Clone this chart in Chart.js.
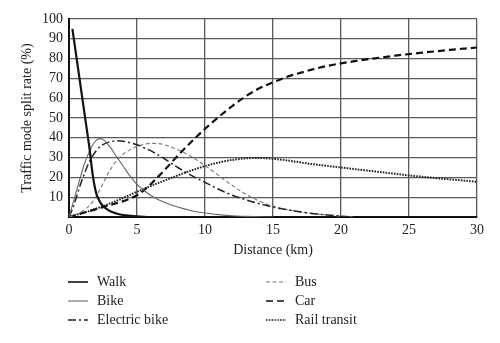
<!DOCTYPE html>
<html>
<head>
<meta charset="utf-8">
<script src="https://cdn.jsdelivr.net/npm/chart.js@4/dist/chart.umd.min.js"></script>
<style>
  html, body { margin: 0; padding: 0; background: #fff; }
  #wrap { width: 500px; height: 343px; }
</style>
</head>
<body>
<div id="wrap"><canvas id="modeChart"></canvas></div>
<script>
// distance grid (km) shared by every curve
const distanceKm = [0, 0.25, 0.5, 0.75, 1, 1.25, 1.5, 1.75, 2, 2.25, 2.5, 3, 3.5, 4, 4.5, 5, 5.5, 6, 6.5, 7,
  8, 9, 10, 11, 12, 13, 14, 15, 16, 17, 18, 19, 20, 21, 22, 23, 24, 25, 26, 27, 28, 29, 30];

// split rate (%) per mode, null where the curve is not drawn
const walkRate = [null, 95, 83, 71, 59, 47, 35, 21, 12, 8, 5.5, 3, 1.8, 1, 0.6, 0.3, 0.1, 0, 0, 0,
  0, 0, 0, null, null, null, null, null, null, null, null, null, null, null, null, null, null, null, null, null, null, null, null];
const bikeRate = [0, 6, 12, 18, 24, 29, 33, 36.5, 38.7, 39.6, 39.2, 35.5, 30.5, 25.5, 20.5, 16.5, 13.5, 11, 9, 7.5,
  5, 3.2, 2, 1.2, 0.6, 0.3, 0.1, 0, null, null, null, null, null, null, null, null, null, null, null, null, null, null, null];
const ebikeRate = [0, 4, 9, 14.5, 19.5, 24, 28, 31, 33.5, 35.3, 36.6, 38, 38.5, 38.3, 37.5, 36.5, 35, 33.5, 31.5, 29.5,
  25, 21, 17.5, 14, 11, 8.7, 6.7, 5, 3.7, 2.6, 1.7, 1, 0.4, 0, null, null, null, null, null, null, null, null, null];
const busRate = [0, 0.5, 1.2, 2, 3, 4.2, 5.8, 7.8, 10.5, 13.5, 17, 23.5, 28.5, 31.8, 34, 35.7, 36.7, 37.2, 37.1, 36.5,
  34, 30.5, 26, 21, 16, 11.5, 8, 5.5, 3.8, 2.6, 1.7, 1, 0.4, 0, null, null, null, null, null, null, null, null, null];
const carRate = [0, 0.5, 1, 1.5, 2, 2.5, 3, 3.5, 4, 4.5, 5, 6, 7, 8, 9.3, 11, 13.5, 16.5, 20, 23.5,
  31, 38, 44.5, 50.5, 56, 61, 65, 68, 70.7, 72.8, 74.7, 76.3, 77.6, 78.7, 79.7, 80.6, 81.5, 82.3, 83, 83.7, 84.4, 85, 85.6];
const railRate = [0, 0.5, 1, 1.5, 2, 2.5, 3, 3.6, 4.2, 4.8, 5.4, 6.8, 8.2, 9.7, 11.2, 12.7, 14.2, 15.6, 17, 18.3,
  21, 23.5, 25.7, 27.5, 28.8, 29.6, 29.8, 29.4, 28.6, 27.6, 26.6, 25.8, 25, 24.2, 23.4, 22.6, 21.8, 21, 20.3, 19.6, 19, 18.4, 17.8];

const modeNames = ['Walk', 'Bike', 'Electric bike', 'Bus', 'Car', 'Rail transit'];
const xTicks = [0, 5, 10, 15, 20, 25, 30];

const serif = "'Liberation Serif', 'DejaVu Serif', serif";

function toPoints(rates) {
  return distanceKm.map((d, i) => ({ x: d, y: rates[i] }));
}

function line(label, rates, color, width, dash) {
  return {
    label: label,
    data: toPoints(rates),
    borderColor: color,
    borderWidth: width,
    borderDash: dash,
    pointRadius: 0,
    fill: false,
    cubicInterpolationMode: 'monotone',
    spanGaps: false
  };
}

// legend drawn underneath in two columns, three rows
const bottomLegend = {
  id: 'bottomLegend',
  afterDraw(chart) {
    const ctx = chart.ctx;
    const cols = [68, 266];
    const rows = [282, 301, 320];
    ctx.save();
    ctx.font = '14px ' + serif;
    ctx.textBaseline = 'middle';
    ctx.fillStyle = '#222';
    chart.data.datasets.forEach((ds, i) => {
      const x = cols[Math.floor(i / 3)];
      const y = rows[i % 3];
      ctx.strokeStyle = ds.borderColor;
      ctx.lineWidth = Math.min(ds.borderWidth, 1.6);
      ctx.setLineDash(ds.borderDash || []);
      ctx.beginPath();
      ctx.moveTo(x, y);
      ctx.lineTo(x + 20, y);
      ctx.stroke();
      ctx.setLineDash([]);
      ctx.fillText(ds.label, x + 29, y);
    });
    ctx.restore();
  }
};

new Chart(document.getElementById('modeChart'), {
  type: 'line',
  data: {
    datasets: [
      line(modeNames[0], walkRate, '#111', 2.2, []),
      line(modeNames[1], bikeRate, '#666', 1.1, []),
      line(modeNames[2], ebikeRate, '#222', 1.5, [8, 3, 2, 3]),
      line(modeNames[3], busRate, '#777', 1.1, [4, 2.5]),
      line(modeNames[4], carRate, '#111', 2.2, [7, 4]),
      line(modeNames[5], railRate, '#222', 2, [1.6, 1.2])
    ]
  },
  options: {
    responsive: true,
    maintainAspectRatio: false,
    animation: false,
    layout: { padding: { left: 0, right: 23, top: 19, bottom: 76 } },
    plugins: { legend: { display: false }, tooltip: { enabled: false } },
    scales: {
      x: {
        type: 'linear',
        min: 0,
        max: 30,
        afterFit(scale) { scale.height = 50; },
        afterBuildTicks(scale) { scale.ticks = xTicks.map(v => ({ value: v })); },
        grid: { color: '#5a5a5a', lineWidth: 1.3, drawTicks: false },
        border: { color: '#111', width: 2 },
        ticks: { color: '#222', padding: 5, font: { family: serif, size: 14 } },
        title: {
          display: true,
          text: 'Distance (km)',
          color: '#222',
          padding: { top: 0, bottom: 8 },
          font: { family: serif, size: 14 }
        }
      },
      y: {
        min: 0,
        max: 100,
        afterFit(scale) { scale.width = 69; },
        grid: { color: '#5a5a5a', lineWidth: 1.3, drawTicks: false },
        border: { color: '#111', width: 2 },
        ticks: {
          stepSize: 10,
          color: '#222',
          padding: 6,
          font: { family: serif, size: 14 },
          callback: v => (v === 0 ? '' : v)
        },
        title: {
          display: true,
          text: 'Traffic mode split rate (%)',
          color: '#222',
          padding: { top: 19, bottom: 0 },
          font: { family: serif, size: 14 }
        }
      }
    }
  },
  plugins: [bottomLegend]
});
</script>
</body>
</html>
